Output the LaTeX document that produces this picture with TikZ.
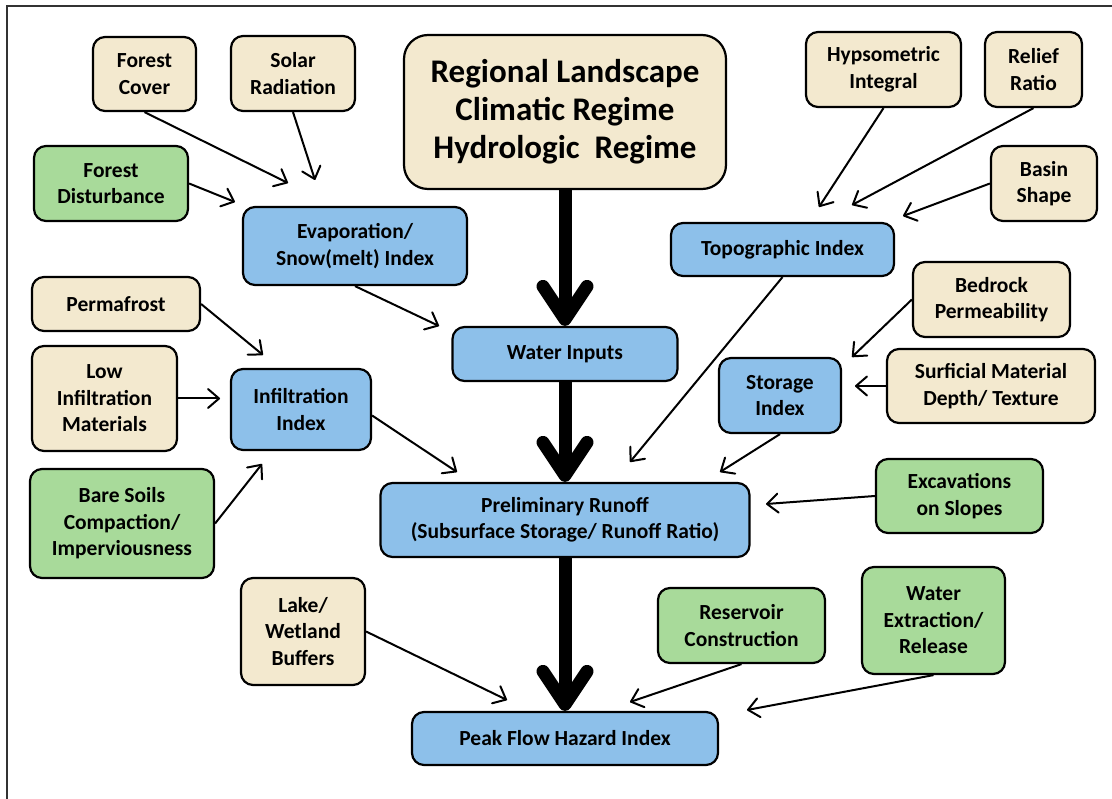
\documentclass[tikz,border=0pt]{standalone}
\usepackage{fontspec}
\setmainfont{Carlito}
\usetikzlibrary{arrows.meta}

\definecolor{beige}{RGB}{243,233,207}
\definecolor{skyblue}{RGB}{141,192,234}
\definecolor{leaf}{RGB}{168,218,154}
\definecolor{framegray}{RGB}{50,50,50}

\begin{document}
\begin{tikzpicture}[x=1pt,y=-1pt,
  box/.style={draw=black, line width=2.2pt, rounded corners=12pt, inner sep=0pt,
    align=center, font=\fontsize{21.5}{26.5}\selectfont\bfseries, text=black},
  factor/.style={box, fill=beige},
  human/.style={box, fill=leaf},
  index/.style={box, fill=skyblue},
  link/.style={line width=2pt, -{Straight Barb[length=11pt,width=19pt,round]}},
  mainflow/.style={line width=13pt, -{Straight Barb[length=33pt,width=44pt,round]}}
]
\useasboundingbox (0,0) rectangle (1112,799);
\fill[white] (0,0) rectangle (1112,799);

% frame
\draw[framegray, line width=2pt] (7,820) -- (7,6) -- (1130,6);

% driving conditions
\node[factor, minimum width=322pt, minimum height=154pt, rounded corners=24pt,
      font=\fontsize{33}{38}\selectfont\bfseries] (rl) at (565,112)
  {Regional Landscape\\Climatic Regime\\Hydrologic\ \ Regime};

% natural factors
\node[factor, minimum width=103pt, minimum height=74pt] (fc) at (144.5,74) {Forest\\Cover};
\node[factor, minimum width=124pt, minimum height=75pt] (sr) at (293,73.5) {Solar\\Radiation};
\node[factor, minimum width=155pt, minimum height=75pt] (hi) at (883.5,69.5) {Hypsometric\\Integral};
\node[factor, minimum width=97pt, minimum height=75pt] (rr) at (1033.5,69.5) {Relief\\Ratio};
\node[factor, minimum width=106pt, minimum height=75pt] (bs) at (1044,183.5) {Basin\\Shape};
\node[factor, minimum width=168pt, minimum height=54pt] (pf) at (116,304) {Permafrost};
\node[factor, minimum width=157pt, minimum height=75pt] (br) at (991.5,299.5) {Bedrock\\Permeability};
\node[factor, minimum width=145pt, minimum height=105pt] (lo) at (104.5,398.5) {Low\\Infiltration\\Materials};
\node[factor, minimum width=208pt, minimum height=74pt] (sm) at (991,386) {Surficial Material\\Depth/ Texture};
\node[factor, minimum width=124pt, minimum height=107pt] (lw) at (303,631.5) {Lake/\\Wetland\\Buffers};

% human disturbances
\node[human, minimum width=154pt, minimum height=75pt] (fd) at (111,183.5) {Forest\\Disturbance};
\node[human, minimum width=184pt, minimum height=109pt] (bsc) at (122,523.5) {Bare Soils\\Compaction/\\Imperviousness};
\node[human, minimum width=167pt, minimum height=74pt] (ex) at (959.5,496) {Excavations\\on Slopes};
\node[human, minimum width=167pt, minimum height=75pt] (rc) at (741.5,625.5) {Reservoir\\Construction};
\node[human, minimum width=143pt, minimum height=107pt] (we) at (933.5,620.5) {Water\\Extraction/\\Release};

% indices
\node[index, minimum width=224pt, minimum height=78pt] (ev) at (355,246) {Evaporation/\\Snow(melt) Index};
\node[index, minimum width=223pt, minimum height=53pt] (ti) at (782.5,249.5) {Topographic Index};
\node[index, minimum width=225pt, minimum height=54pt] (wi) at (565,354) {Water Inputs};
\node[index, minimum width=140pt, minimum height=81pt] (ii) at (301,409.5) {Infiltration\\Index};
\node[index, minimum width=122pt, minimum height=75pt] (si) at (780,395.5) {Storage\\Index};
\node[index, minimum width=369pt, minimum height=74pt] (pr) at (565,520)
  {Preliminary Runoff\\(Subsurface Storage/ Runoff Ratio)};
\node[index, minimum width=306pt, minimum height=53pt] (pk) at (565,738.5) {Peak Flow Hazard Index};

% arrow tips that stop short of their targets
\coordinate (tfc) at (288,183);
\coordinate (tsr) at (315,180);
\coordinate (tfd) at (235,202);
\coordinate (tev) at (439,326);
\coordinate (thi) at (819,207);
\coordinate (trr) at (852,205);
\coordinate (tbs) at (903,216);
\coordinate (tpf) at (263,355);
\coordinate (tlo) at (220,398.5);
\coordinate (tbsc) at (262,464);
\coordinate (tii) at (457,472);
\coordinate (tti) at (630,462);
\coordinate (tbr) at (852,357);
\coordinate (tsm) at (855,386);
\coordinate (tsi) at (720,472);
\coordinate (tex) at (766,504);
\coordinate (tlw) at (507,700);
\coordinate (trc) at (630,702);
\coordinate (twe) at (747,710);

% main flow
\draw[mainflow] (rl.south) -- (rl.south |- wi.north);
\draw[mainflow] (wi.south) -- (wi.south |- pr.north);
\draw[mainflow] (pr.south) -- (pr.south |- pk.north);

% contributing factors
\draw[link] (fc.south) -- (tfc);
\draw[link] (sr.south) -- (tsr);
\draw[link] (fd.east) -- (tfd);
\draw[link] (ev.south) -- (tev);
\draw[link] (hi.south) -- (thi);
\draw[link] (rr.south) -- (trr);
\draw[link] (bs.west) -- (tbs);
\draw[link] (pf.east) -- (tpf);
\draw[link] (lo.east) -- (tlo);
\draw[link] (bsc.east) -- (tbsc);
\draw[link] ([yshift=-6pt]ii.east) -- (tii);
\draw[link] (ti.south) -- (tti);
\draw[link] (br.west) -- (tbr);
\draw[link] (sm.west) -- (tsm);
\draw[link] (si.south) -- (tsi);
\draw[link] (ex.west) -- (tex);
\draw[link] (lw.east) -- (tlw);
\draw[link] (rc.south) -- (trc);
\draw[link] (we.south) -- (twe);
\end{tikzpicture}
\end{document}
